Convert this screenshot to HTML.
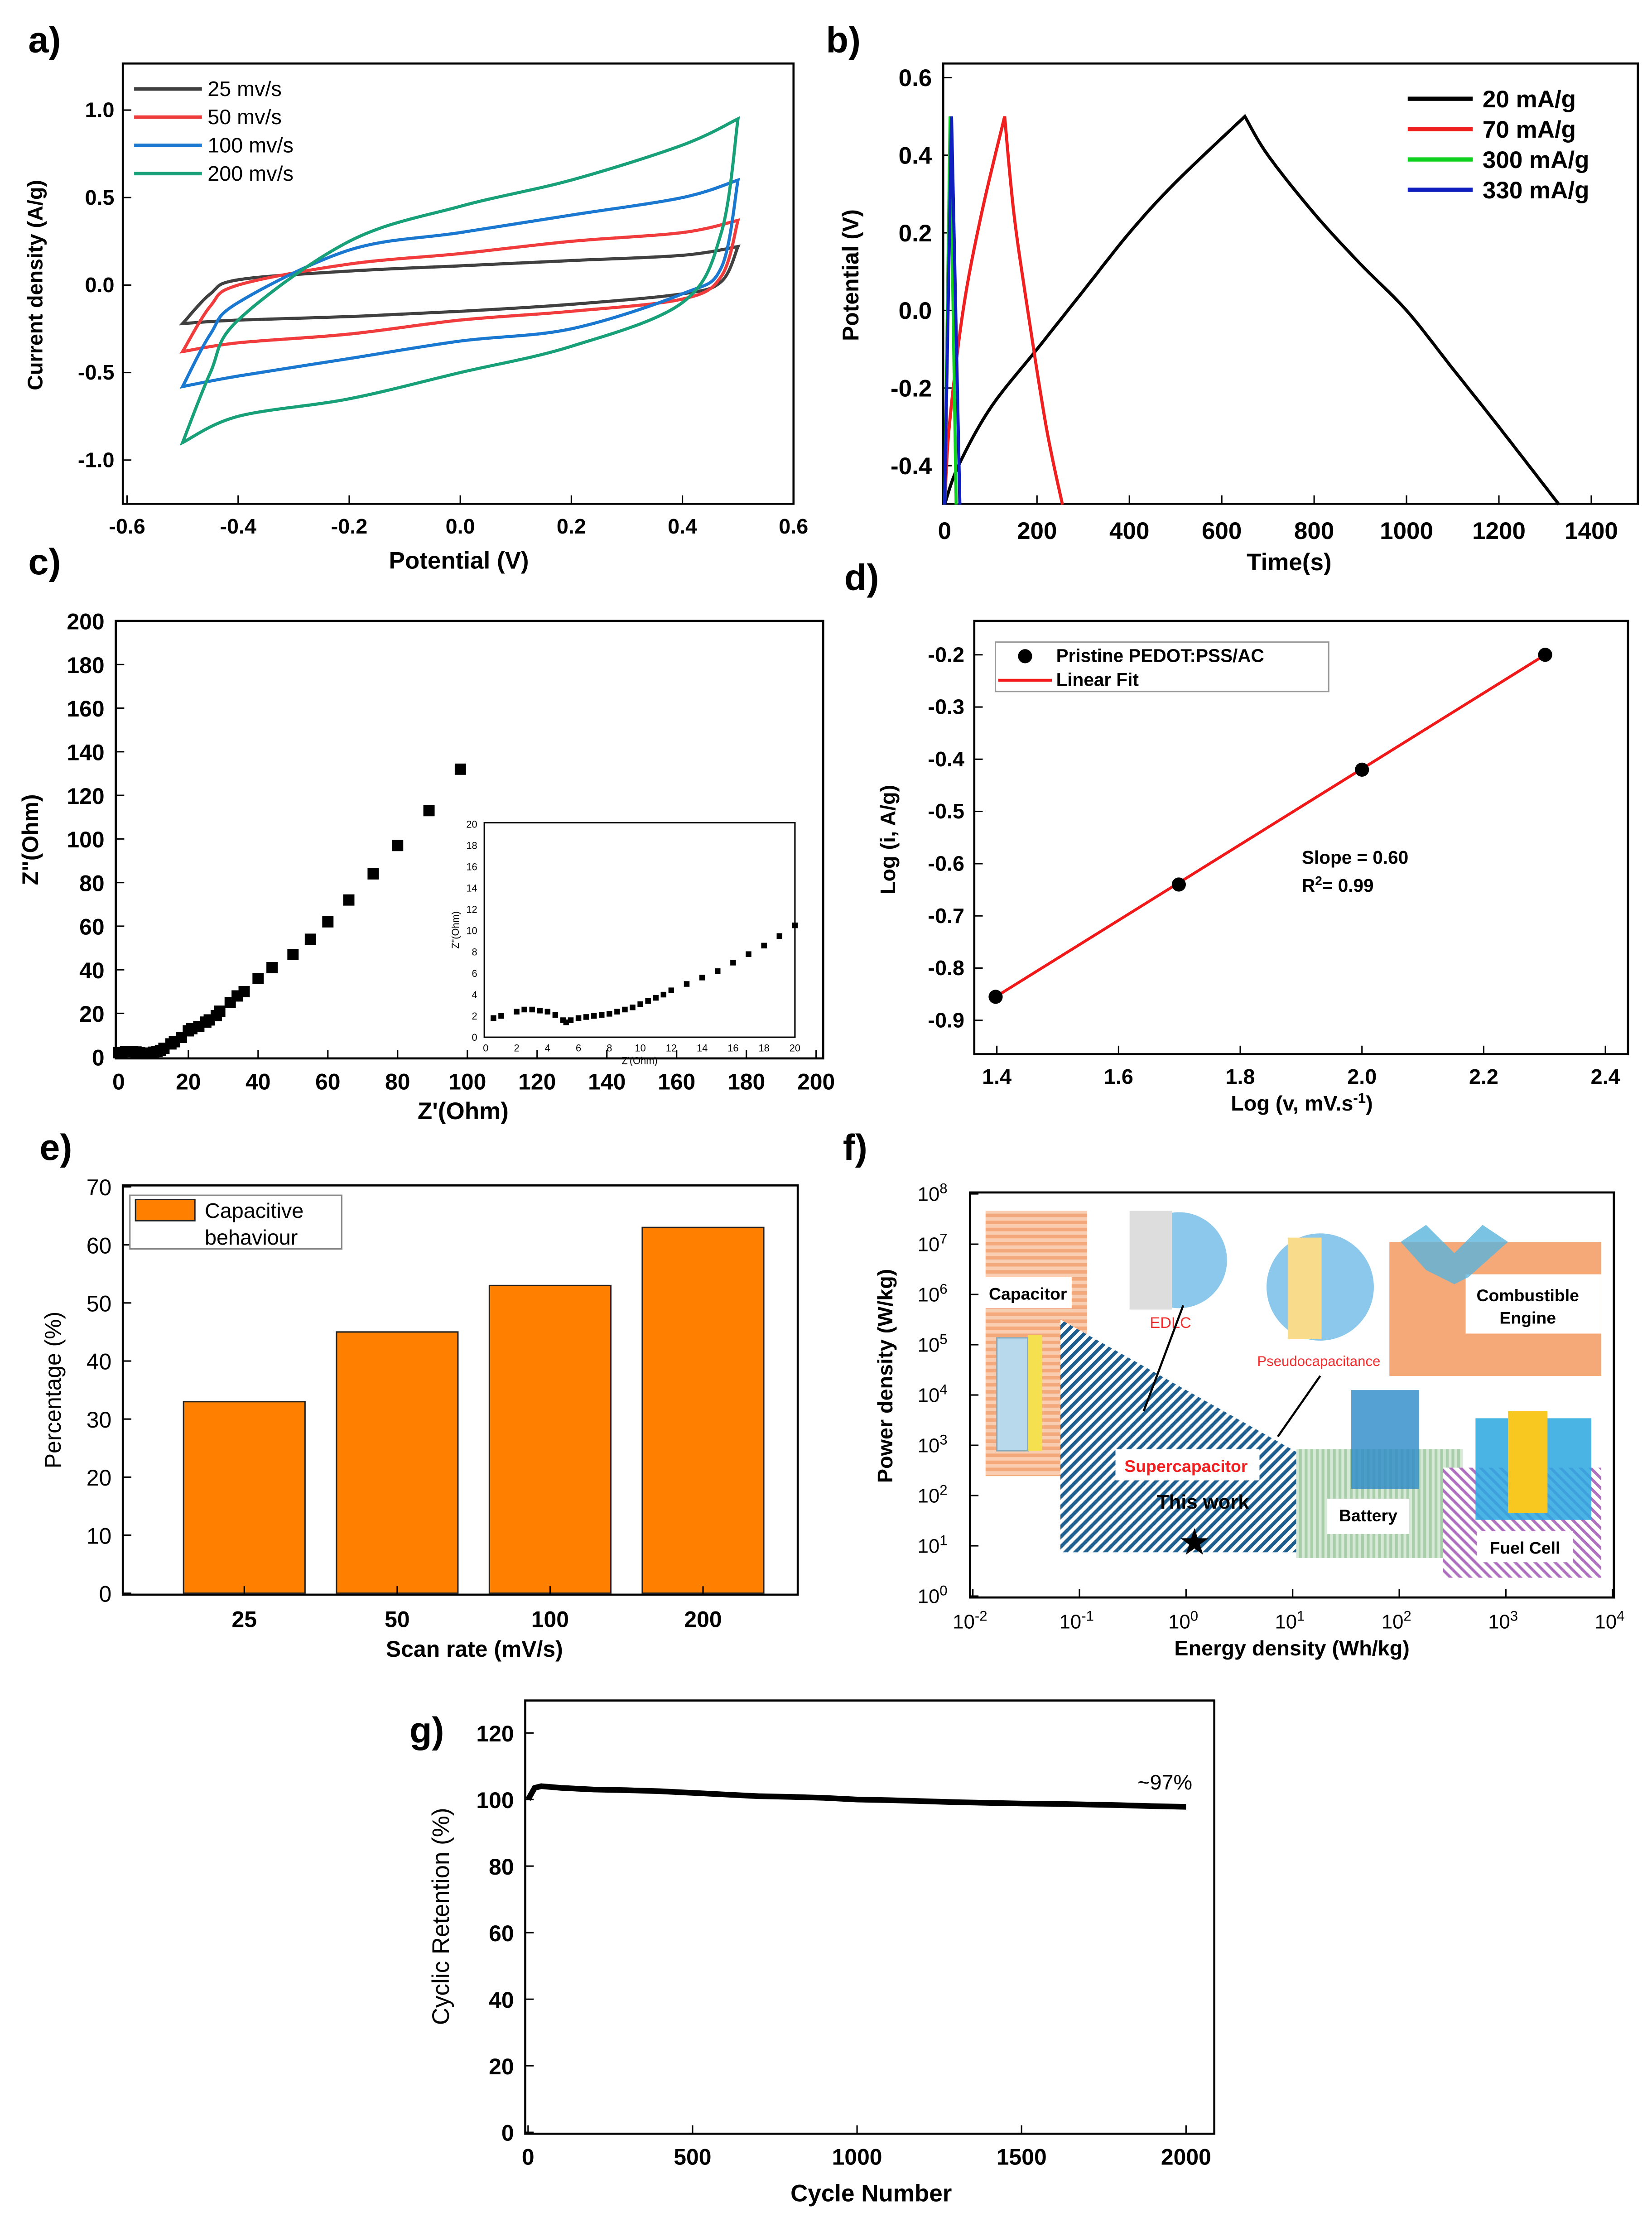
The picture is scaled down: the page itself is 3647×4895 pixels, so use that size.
<!DOCTYPE html>
<html><head><meta charset="utf-8"><style>
html,body{margin:0;padding:0;background:#fff}
svg{display:block}
text{font-family:"Liberation Sans",sans-serif}
</style></head><body>
<svg id="root" xmlns="http://www.w3.org/2000/svg" width="3647" height="4895" viewBox="0 0 1170 1571" preserveAspectRatio="none">
<defs>
<pattern id="hatchBlue" width="5" height="5" patternUnits="userSpaceOnUse" patternTransform="rotate(45)"><rect width="5" height="5" fill="#fff"/><rect width="2.5" height="5" fill="#1f5f8f"/></pattern>
<pattern id="hatchOrange" width="5" height="5" patternUnits="userSpaceOnUse"><rect width="5" height="5" fill="#f7c4a3"/><rect width="5" height="2.5" fill="#f29a66"/></pattern>
<pattern id="hatchGreen" width="4" height="4" patternUnits="userSpaceOnUse"><rect width="4" height="4" fill="#d6e8d6"/><rect width="2" height="4" fill="#a9cfaa"/></pattern>
<pattern id="hatchPurple" width="5" height="5" patternUnits="userSpaceOnUse" patternTransform="rotate(-45)"><rect width="5" height="5" fill="#fff"/><rect width="2" height="5" fill="#b070c0"/></pattern>
</defs>
</svg>
<script>
// ---------- data ----------
const cvRates=["25  mv/s","50  mv/s","100 mv/s","200 mv/s"];
const cvColors=["#404040","#f03c3c","#1a78d0","#18a078"];
const cvUpperV=[-0.5,-0.45,-0.4,-0.2,0,0.2,0.4,0.5];
const cvUpper25=[-0.22,-0.05,0.03,0.08,0.11,0.14,0.17,0.22];
const cvUpper50=[-0.38,-0.12,0.0,0.12,0.18,0.25,0.3,0.37];
const cvUpper100=[-0.58,-0.28,-0.1,0.2,0.3,0.4,0.5,0.6];
const cvUpper200=[-0.9,-0.5,-0.2,0.25,0.45,0.6,0.8,0.95];
const cvLowerV=[0.5,0.47,0.4,0.2,0,-0.2,-0.4,-0.5];
const cvLower25=[0.22,0.02,-0.05,-0.11,-0.15,-0.18,-0.2,-0.22];
const cvLower50=[0.37,0.05,-0.08,-0.15,-0.2,-0.28,-0.33,-0.38];
const cvLower100=[0.6,0.1,-0.05,-0.25,-0.32,-0.42,-0.52,-0.58];
const cvLower200=[0.95,0.3,-0.1,-0.35,-0.5,-0.65,-0.75,-0.9];
const cvXTicks=[-0.6,-0.4,-0.2,0.0,0.2,0.4,0.6];
const cvYTicks=[-1.0,-0.5,0.0,0.5,1.0];

const gcdLabels=["20  mA/g","70  mA/g","300 mA/g","330 mA/g"];
const gcdColors=["#000","#f02020","#10d020","#1020c0"];
const gcdT20=[0,30,100,200,300,400,500,650];
const gcdV20=[-0.5,-0.4,-0.25,-0.1,0.05,0.2,0.33,0.5];
const gcdD20T=[650,700,800,900,1000,1100,1200,1330];
const gcdD20V=[0.5,0.4,0.25,0.12,0,-0.15,-0.3,-0.5];
const gcdT70=[0,10,40,80,130];
const gcdV70=[-0.5,-0.3,0,0.25,0.5];
const gcdD70T=[130,150,180,220,255];
const gcdD70V=[0.5,0.25,0,-0.3,-0.5];
const gcdT300=[0,12,25];
const gcdV300=[-0.5,0.5,-0.5];
const gcdT330=[0,15,33];
const gcdV330=[-0.5,0.5,-0.5];
const gcdXTicks=[0,200,400,600,800,1000,1200,1400];
const gcdYTicks=[-0.4,-0.2,0.0,0.2,0.4,0.6];

const eisX=[0,1,2,3,4,5,6,7,8,9,10,11,12,13,15,16,18,20,21,23,25,26,28,29,32,34,36,40,44,50,55,60,66,73,80,89,98];
const eisY=[2,2,2.5,2.5,2.5,2.3,2,1.5,1.5,1.8,2.2,2.5,3,4,6,7,9,12,13,14,16,17,19,21,25,28,30,36,41,47,54,62,72,84,97,113,132];
const insetX=[0.5,1,2,2.5,3,3.5,4,4.5,5,5.2,5.5,6,6.5,7,7.5,8,8.5,9,9.5,10,10.5,11,11.5,12,13,14,15,16,17,18,19,20];
const insetY=[1.8,2,2.4,2.6,2.6,2.5,2.4,2.1,1.6,1.4,1.6,1.8,1.9,2,2.1,2.2,2.4,2.6,2.8,3.1,3.4,3.7,4,4.4,5,5.6,6.2,7,7.8,8.6,9.5,10.5];
const eisXTicks=[0,20,40,60,80,100,120,140,160,180,200];
const eisYTicks=[0,20,40,60,80,100,120,140,160,180,200];

const logV=[1.398,1.699,2.0,2.301];
const logI=[-0.855,-0.64,-0.42,-0.2];
const fitX=[1.398,2.301];
const fitY=[-0.855,-0.2];
const logXTicks=[1.4,1.6,1.8,2.0,2.2,2.4];
const logYTicks=[-0.9,-0.8,-0.7,-0.6,-0.5,-0.4,-0.3,-0.2];

const barCats=["25","50","100","200"];
const barVals=[33,45,53,63];
const barYTicks=[0,10,20,30,40,50,60,70];

const ragoXExp=[-2,-1,0,1,2,3,4];
const ragoYExp=[0,1,2,3,4,5,6,7,8];
const starE=[1.2]; const starP=[12];

const cycN=[0,20,40,100,200,300,400,500,600,700,800,900,1000,1100,1200,1300,1400,1500,1600,1700,1800,1900,2000];
const cycR=[100,103.5,104,103.5,103,102.8,102.5,102,101.5,101,100.8,100.5,100,99.8,99.5,99.2,99,98.8,98.7,98.5,98.3,98,97.8];
const cycXTicks=[0,500,1000,1500,2000];
const cycYTicks=[0,20,40,60,80,100,120];

// ---------- helpers ----------
const NS="http://www.w3.org/2000/svg";
const root=document.getElementById('root');
function mk(tag,attrs,parent){const e=document.createElementNS(NS,tag);for(const k in attrs)e.setAttribute(k,attrs[k]);(parent||root).appendChild(e);return e;}
function txt(s,x,y,size,anchor,weight,parent,fill){const t=mk('text',{x:x,y:y,'font-size':size,'text-anchor':anchor||'middle','font-weight':weight||'bold',fill:fill||'#000'},parent);t.textContent=s;return t;}
function lin(d0,d1,p0,p1){return v=>p0+(v-d0)*(p1-p0)/(d1-d0);}
function axesBox(g,x0,y0,x1,y1){mk('rect',{x:x0,y:y0,width:x1-x0,height:y1-y0,fill:'none',stroke:'#000','stroke-width':1.5},g);}
function panelLabel(s,x,y){const t=txt(s,x,y,26,'start','bold');}
function pathOf(xs,ys,sx,sy){return xs.map((v,i)=>(i?'L':'M')+sx(v).toFixed(2)+' '+sy(ys[i]).toFixed(2)).join(' ');}
function smoothOf(xs,ys,sx,sy,cont){const P=xs.map((v,i)=>[sx(v),sy(ys[i])]);let d=(cont?'L':'M')+P[0][0].toFixed(2)+' '+P[0][1].toFixed(2);
for(let i=0;i<P.length-1;i++){const p0=P[i-1]||P[i],p1=P[i],p2=P[i+1],p3=P[i+2]||P[i+1];
const c1=[p1[0]+(p2[0]-p0[0])/6,p1[1]+(p2[1]-p0[1])/6],c2=[p2[0]-(p3[0]-p1[0])/6,p2[1]-(p3[1]-p1[1])/6];
d+=' C'+c1[0].toFixed(2)+' '+c1[1].toFixed(2)+' '+c2[0].toFixed(2)+' '+c2[1].toFixed(2)+' '+p2[0].toFixed(2)+' '+p2[1].toFixed(2);}return d;}

// ---------- panel a ----------
{const g=mk('g',{});
const X0=87,X1=562,Y0=45,Y1=357;const sx=lin(-0.6,0.6,90,562),sy=lin(0,1,202,78);
axesBox(g,X0,Y0,X1,Y1);
cvXTicks.forEach(v=>{mk('line',{x1:sx(v),x2:sx(v),y1:Y1,y2:Y1-6,stroke:'#000'},g);const t=txt(v.toFixed(1),sx(v),Y1+21,15,'middle','bold',g);});
cvYTicks.forEach(v=>{mk('line',{x1:X0,x2:X0+6,y1:sy(v),y2:sy(v),stroke:'#000'},g);const t=txt(v.toFixed(1),X0-6,sy(v)+5,15,'end','bold',g);});
const ups=[cvUpper25,cvUpper50,cvUpper100,cvUpper200],los=[cvLower25,cvLower50,cvLower100,cvLower200];
ups.forEach((u,i)=>{const p=mk('path',{d:smoothOf(cvUpperV,u,sx,sy)+' '+smoothOf(cvLowerV,los[i],sx,sy,true)+' Z',fill:'none',stroke:cvColors[i],'stroke-width':2.2},g);});
cvRates.forEach((r,i)=>{const y=63+i*20;mk('line',{x1:95,x2:143,y1:y,y2:y,stroke:cvColors[i],'stroke-width':2.5},g);const t=txt(r,147,y+5,15,'start','normal',g);t.setAttribute('xml:space','preserve');});
const xt=txt('Potential (V)',325,403,17,'middle','bold',g);
const yt=txt('Current density (A/g)',0,0,15,'middle','bold',g);yt.setAttribute('transform','translate(30,202) rotate(-90)');
panelLabel('a)',20,37);}

// ---------- panel b ----------
{const g=mk('g',{});
const X0=668,X1=1160,Y0=45,Y1=357;const sx=lin(0,1400,669,1127),sy=lin(0,1,220,-55);
axesBox(g,X0,Y0,X1,Y1);
gcdXTicks.forEach(v=>{mk('line',{x1:sx(v),x2:sx(v),y1:Y1,y2:Y1-6,stroke:'#000'},g);const t=txt(String(v),sx(v),Y1+25,17,'middle','bold',g);});
gcdYTicks.forEach(v=>{mk('line',{x1:X0,x2:X0+6,y1:sy(v),y2:sy(v),stroke:'#000'},g);const t=txt(v.toFixed(1),X0-8,sy(v)+6,17,'end','bold',g);});
const paths=[smoothOf(gcdT20,gcdV20,sx,sy)+' '+smoothOf(gcdD20T,gcdD20V,sx,sy,true),smoothOf(gcdT70,gcdV70,sx,sy)+' '+smoothOf(gcdD70T,gcdD70V,sx,sy,true),pathOf(gcdT300,gcdV300,sx,sy),pathOf(gcdT330,gcdV330,sx,sy)];
paths.forEach((d,i)=>{const p=mk('path',{d:d,fill:'none',stroke:gcdColors[i],'stroke-width':2.2},g);});
gcdLabels.forEach((r,i)=>{const y=70+i*21.5;mk('line',{x1:997,x2:1043,y1:y,y2:y,stroke:gcdColors[i],'stroke-width':3},g);const t=txt(r,1050,y+6,17,'start','bold',g);t.setAttribute('xml:space','preserve');});
const xt=txt('Time(s)',913,404,17,'middle','bold',g);
const yt=txt('Potential (V)',0,0,16,'middle','bold',g);yt.setAttribute('transform','translate(608,195) rotate(-90)');
panelLabel('b)',585,37);}

// ---------- panel c ----------
{const g=mk('g',{});
const X0=82,X1=583,Y0=440,Y1=750;const sx=lin(0,200,84,578),sy=lin(0,200,749,440);
axesBox(g,X0,Y0,X1,Y1);
eisXTicks.forEach(v=>{mk('line',{x1:sx(v),x2:sx(v),y1:Y1,y2:Y1-6,stroke:'#000'},g);const t=txt(String(v),sx(v),Y1+22,16,'middle','bold',g);});
eisYTicks.forEach(v=>{mk('line',{x1:X0,x2:X0+6,y1:sy(v),y2:sy(v),stroke:'#000'},g);const t=txt(String(v),X0-8,sy(v)+6,16,'end','bold',g);});
eisX.forEach((v,i)=>{const r=mk('rect',{x:sx(v)-4,y:sy(eisY[i])-4,width:8,height:8,fill:'#000'},g);});
const ix=lin(0,20,344,563),iy=lin(0,20,735,584);
mk('rect',{x:343,y:583,width:220,height:152,fill:'#fff',stroke:'#000','stroke-width':1},g);
for(let v=0;v<=20;v+=2){txt(String(v),ix(v),745,7,'middle','normal',g);txt(String(v),338,iy(v)+2.5,7,'end','normal',g);}
txt("Z'(Ohm)",453,754,7,'middle','normal',g);
const it=txt('Z"(Ohm)',0,0,7,'middle','normal',g);it.setAttribute('transform','translate(325,659) rotate(-90)');
insetX.forEach((v,i)=>{const r=mk('rect',{x:ix(v)-2,y:iy(insetY[i])-2,width:4,height:4,fill:'#000'},g);});
const xt=txt("Z'(Ohm)",328,793,17,'middle','bold',g);
const yt=txt('Z"(Ohm)',0,0,16,'middle','bold',g);yt.setAttribute('transform','translate(27,595) rotate(-90)');
panelLabel('c)',20,407);}

// ---------- panel d ----------
{const g=mk('g',{});
const X0=690,X1=1153,Y0=440,Y1=747;const sx=lin(1.4,2.4,706,1137),sy=lin(-0.2,-0.9,464,723);
axesBox(g,X0,Y0,X1,Y1);
logXTicks.forEach(v=>{mk('line',{x1:sx(v),x2:sx(v),y1:Y1,y2:Y1-6,stroke:'#000'},g);const t=txt(v.toFixed(1),sx(v),Y1+21,15,'middle','bold',g);});
logYTicks.forEach(v=>{mk('line',{x1:X0,x2:X0+6,y1:sy(v),y2:sy(v),stroke:'#000'},g);const t=txt(v.toFixed(1),X0-7,sy(v)+5,15,'end','bold',g);});
const f=mk('path',{d:pathOf(fitX,fitY,sx,sy),stroke:'#f01818','stroke-width':2,fill:'none'},g);
logV.forEach((v,i)=>{const c=mk('circle',{cx:sx(v),cy:sy(logI[i]),r:5,fill:'#000'},g);});
mk('rect',{x:705,y:455,width:236,height:35,fill:'#fff',stroke:'#999'},g);
mk('circle',{cx:726,cy:465,r:5,fill:'#000'},g);txt('Pristine PEDOT:PSS/AC',748,469,13,'start','bold',g);
mk('line',{x1:707,x2:745,y1:482,y2:482,stroke:'#f01818','stroke-width':2},g);txt('Linear Fit',748,486,13,'start','bold',g);
txt('Slope = 0.60',922,612,13,'start','bold',g);
const r2=txt('R',922,632,13,'start','bold',g);const ts=mk('tspan',{'baseline-shift':'super','font-size':9},r2);ts.textContent='2';const ts2=mk('tspan',{},r2);ts2.textContent='= 0.99';
const xt=txt('Log (v, mV.s',922,787,15,'middle','bold',g);const s1=mk('tspan',{'baseline-shift':'super','font-size':10},xt);s1.textContent='-1';const s2=mk('tspan',{},xt);s2.textContent=')';
const yt=txt('Log (i, A/g)',0,0,15,'middle','bold',g);yt.setAttribute('transform','translate(634,595) rotate(-90)');
panelLabel('d)',598,418);}

// ---------- panel e ----------
{const g=mk('g',{});
const X0=87,X1=565,Y0=840,Y1=1130;const sy=lin(0,70,1129,841);const bx=i=>173+i*108.3;
axesBox(g,X0,Y0,X1,Y1);
barYTicks.forEach(v=>{mk('line',{x1:X0,x2:X0+6,y1:sy(v),y2:sy(v),stroke:'#000'},g);const t=txt(String(v),X0-8,sy(v)+6,16,'end','normal',g);});
barVals.forEach((v,i)=>{const r=mk('rect',{x:bx(i)-43,y:sy(v),width:86,height:sy(0)-sy(v),fill:'#ff8000',stroke:'#222','stroke-width':1},g);
mk('line',{x1:bx(i),x2:bx(i),y1:Y1,y2:Y1-6,stroke:'#000'},g);const t=txt(barCats[i],bx(i),Y1+23,16,'middle','bold',g);});
const lg=mk('g',{},g);
mk('rect',{x:92,y:847,width:150,height:38,fill:'#fff',stroke:'#888'},lg);mk('rect',{x:96,y:850,width:42,height:15,fill:'#ff8000',stroke:'#222'},lg);
txt('Capacitive',145,863,15,'start','normal',lg);txt('behaviour',145,882,15,'start','normal',lg);
const xt=txt('Scan rate (mV/s)',336,1174,16,'middle','bold',g);
const yt=txt('Percentage (%)',0,0,16,'middle','normal',g);yt.setAttribute('transform','translate(43,985) rotate(-90)');
panelLabel('e)',28,822);}

// ---------- panel f ----------
{const g=mk('g',{});
const X0=687,X1=1143,Y0=845,Y1=1132;const sx=v=>lin(-2,4,689,1142)(Math.log10(v)),sy=v=>lin(0,8,1131,846)(Math.log10(v));
mk('rect',{x:698,y:858,width:72,height:188,fill:'url(#hatchOrange)',opacity:0.85},g);
mk('rect',{x:697,y:905,width:62,height:22,fill:'#fff'},g);txt('Capacitor',728,921,12,'middle','bold',g);
mk('rect',{x:706,y:948,width:22,height:80,fill:'#b8d8ec',stroke:'#8ab'},g);mk('rect',{x:728,y:946,width:10,height:82,fill:'#f5e050'},g);
mk('polygon',{points:'751,935 938,1040 938,1100 751,1100',fill:'url(#hatchBlue)'},g);
mk('rect',{x:918,y:1027,width:118,height:77,fill:'url(#hatchGreen)'},g);
mk('rect',{x:1022,y:1040,width:112,height:78,fill:'url(#hatchPurple)'},g);
mk('rect',{x:984,y:880,width:150,height:95,fill:'#f5a878'},g);
mk('rect',{x:1038,y:903,width:96,height:42,fill:'#fff'},g);txt('Combustible',1082,922,12,'middle','bold',g);txt('Engine',1082,938,12,'middle','bold',g);
mk('polygon',{points:'992,880 1010,868 1030,888 1050,868 1068,880 1040,905 1030,910 1010,900',fill:'#5ab4dc',opacity:0.8},g);
mk('circle',{cx:835,cy:893,r:34,fill:'#8cc8ec'},g);mk('rect',{x:800,y:858,width:30,height:70,fill:'#ddd'},g);
txt('EDLC',829,941,11,'middle','normal',g,'#f03030');
mk('circle',{cx:935,cy:912,r:38,fill:'#8cc8ec'},g);mk('rect',{x:912,y:877,width:24,height:72,fill:'#f8dc8c'},g);
txt('Pseudocapacitance',934,968,10,'middle','normal',g,'#f03030');
mk('line',{x1:810,x2:838,y1:1000,y2:925,stroke:'#000','stroke-width':1.5},g);mk('line',{x1:905,x2:935,y1:1018,y2:975,stroke:'#000','stroke-width':1.5},g);
mk('rect',{x:790,y:1027,width:102,height:22,fill:'#fff'},g);txt('Supercapacitor',840,1043,12,'middle','bold',g,'#f02020');
txt('This work',852,1069,14,'middle','bold',g);
mk('rect',{x:957,y:985,width:48,height:70,fill:'#2a8ac8',opacity:0.8},g);
mk('rect',{x:940,y:1062,width:58,height:25,fill:'#fff'},g);txt('Battery',969,1078,12,'middle','bold',g);
mk('rect',{x:1045,y:1005,width:82,height:72,fill:'#2aa8e0',opacity:0.85},g);mk('rect',{x:1068,y:1000,width:28,height:72,fill:'#f8c820'},g);
mk('rect',{x:1046,y:1085,width:68,height:22,fill:'#fff'},g);txt('Fuel Cell',1080,1101,12,'middle','bold',g);
starE.forEach((e,i)=>{const s=txt('★',sx(e),sy(starP[i])+9,26,'middle','normal',g);});
axesBox(g,X0,Y0,X1,Y1);
ragoXExp.forEach(e=>{const x=sx(Math.pow(10,e));mk('line',{x1:x,x2:x,y1:Y1,y2:Y1-6,stroke:'#000'},g);const t=txt('10',x-2,Y1+22,14,'middle','normal',g);const s=mk('tspan',{'baseline-shift':'super','font-size':10},t);s.textContent=String(e);});
ragoYExp.forEach(e=>{const y=sy(Math.pow(10,e));mk('line',{x1:X0,x2:X0+6,y1:y,y2:y,stroke:'#000'},g);const t=txt('10',X0-16,y+5,14,'end','normal',g);const s=mk('tspan',{'baseline-shift':'super','font-size':10},t);s.textContent=String(e);});
const xt=txt('Energy density (Wh/kg)',915,1173,15,'middle','bold',g);
const yt=txt('Power density (W/kg)',0,0,15,'middle','bold',g);yt.setAttribute('transform','translate(632,975) rotate(-90)');
panelLabel('f)',597,822);}

// ---------- panel g ----------
{const g=mk('g',{});
const X0=372,X1=860,Y0=1205,Y1=1512;const sx=lin(0,2000,374,840),sy=lin(0,120,1511,1228);
axesBox(g,X0,Y0,X1,Y1);
cycXTicks.forEach(v=>{mk('line',{x1:sx(v),x2:sx(v),y1:Y1,y2:Y1-6,stroke:'#000'},g);const t=txt(String(v),sx(v),Y1+22,16,'middle','bold',g);});
cycYTicks.forEach(v=>{mk('line',{x1:X0,x2:X0+6,y1:sy(v),y2:sy(v),stroke:'#000'},g);const t=txt(String(v),X0-8,sy(v)+6,16,'end','bold',g);});
const p=mk('path',{d:pathOf(cycN,cycR,sx,sy),fill:'none',stroke:'#000','stroke-width':4},g);
txt('~97%',825,1268,15,'middle','normal',g);
const xt=txt('Cycle Number',617,1560,17,'middle','bold',g);
const yt=txt('Cyclic Retention (%)',0,0,17,'middle','normal',g);yt.setAttribute('transform','translate(318,1358) rotate(-90)');
panelLabel('g)',290,1235);}
</script>
</body></html>
